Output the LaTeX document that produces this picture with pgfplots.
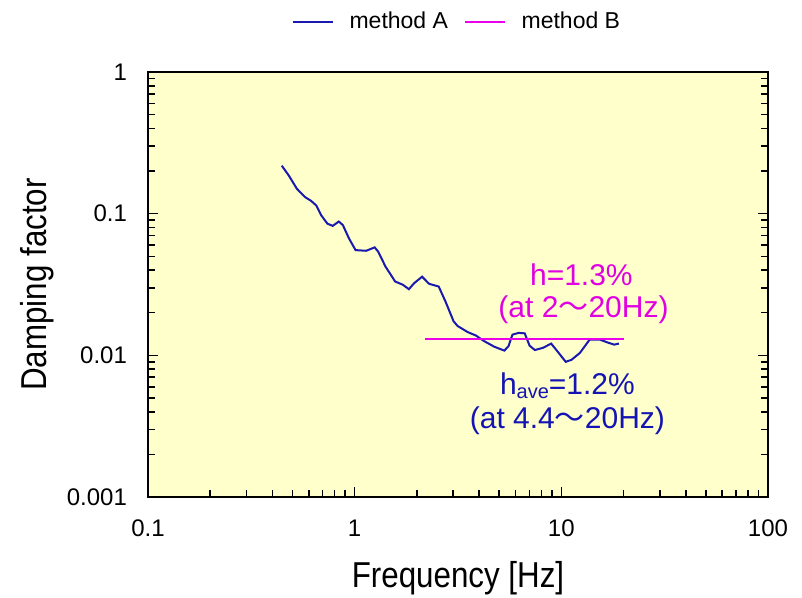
\documentclass[border=0pt]{standalone}
\usepackage{fontspec}
\setmainfont{Liberation Sans}
\newfontfamily\narrowfont[FakeStretch=0.87]{Liberation Sans}
\newfontfamily\cjk{Noto Sans CJK JP}
\usepackage{pgfplots}
\pgfplotsset{compat=1.18}
\definecolor{bgyellow}{RGB}{255,255,204}
\definecolor{lineA}{RGB}{25,25,175}
\definecolor{lineB}{RGB}{235,0,235}
\definecolor{txtA}{RGB}{20,20,180}
\definecolor{txtB}{RGB}{225,0,225}
\newcommand{\tl}{{\cjk ～}}
\begin{document}
\begin{tikzpicture}
\useasboundingbox (-74pt,-50.5pt) rectangle (327pt,248.5pt);
\begin{axis}[
  at={(0,0)}, anchor=south west,
  scale only axis, width=310pt, height=212.5pt,
  xmode=log, ymode=log,
  xmin=0.1, xmax=100, ymin=0.001, ymax=1,
  axis background/.style={fill=bgyellow},
  axis line style={line width=1pt},
  tick align=inside,
  xtick pos=lower, ytick pos=both,
  major tick length=5pt, minor tick length=3.5pt,
  every tick/.style={black, line width=0.8pt},
  xtick={0.1,1,10,100}, xticklabels={0.1,1,10,100},
  ytick={0.001,0.01,0.1,1}, yticklabels={0.001,0.01,0.1,1},
  ticklabel style={font=\fontsize{12}{12}\selectfont},
  xticklabel style={yshift=-8pt},
  yticklabel style={xshift=-7pt},
  xlabel={Frequency [Hz]}, ylabel={Damping factor},
  every axis x label/.style={at={(axis description cs:0.5,-0.19)}, anchor=center,
    font=\narrowfont\fontsize{18}{18}\selectfont},
  every axis y label/.style={at={(axis description cs:-0.179,0.5)}, anchor=center, rotate=90,
    font=\narrowfont\fontsize{18}{18}\selectfont},
  legend style={at={(axis description cs:0.5,1.118)}, anchor=center, draw=none, fill=none,
    font=\fontsize{11.5}{11.5}\selectfont, column sep=6pt},
  legend columns=2,
  legend image post style={line width=0.9pt},
  legend image code/.code={\draw[#1] (0cm,0cm) -- (0.7cm,0cm);},
]
\addplot[lineA, line width=1pt] coordinates {
(0.444,0.218) (0.48,0.186) (0.525,0.150) (0.575,0.131) (0.616,0.123) (0.653,0.114)
(0.69,0.097) (0.738,0.085) (0.783,0.082) (0.838,0.088) (0.877,0.083) (0.938,0.067)
(1.01,0.0553) (1.136,0.0547) (1.25,0.0578) (1.30,0.0539) (1.41,0.0423) (1.57,0.0332)
(1.71,0.0315) (1.83,0.0293) (1.94,0.0323) (2.12,0.0359) (2.29,0.0320) (2.55,0.0306)
(2.75,0.0240) (3.01,0.0174) (3.15,0.0161) (3.52,0.0146) (3.86,0.0138) (4.23,0.0126)
(4.74,0.0115) (5.30,0.0108) (5.55,0.0116) (5.80,0.0140) (6.21,0.0144) (6.65,0.0143)
(7.02,0.0117) (7.45,0.0109) (8.15,0.0113) (8.93,0.0121) (9.56,0.0107) (10.5,0.0090)
(11.2,0.0093) (12.3,0.0104) (13.7,0.0129) (15.4,0.0129) (16.8,0.0123) (18.0,0.0119)
(19.0,0.0121)
};
\addlegendentry{method A}
\addplot[lineB, line width=1pt] coordinates {(2.2,0.0131) (20,0.0131)};
\addlegendentry{method B}
\node[txtB, font=\fontsize{15}{15}\selectfont] at (axis cs:12.5,0.037) {h=1.3\%};
\node[txtB, font=\fontsize{15}{15}\selectfont] at (axis cs:12.8,0.021) {(at 2\tl20Hz)};
\node[txtA, font=\fontsize{15}{15}\selectfont, inner sep=1pt] at (axis cs:10.7,0.0061) {h\raisebox{-0.3ex}{\fontsize{10}{10}\selectfont ave}=1.2\%};
\node[txtA, font=\fontsize{15}{15}\selectfont, inner sep=1pt] at (axis cs:10.7,0.00345) {(at 4.4\tl20Hz)};
\end{axis}
\end{tikzpicture}
\end{document}
